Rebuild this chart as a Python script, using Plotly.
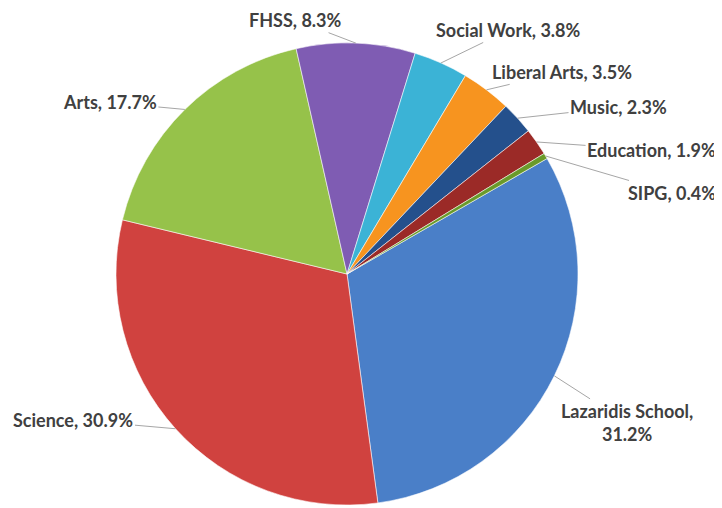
import math
import plotly.graph_objects as go

# ---- data ----
categories = ["Lazaridis School", "Science", "Arts", "FHSS", "Social Work",
              "Liberal Arts", "Music", "Education", "SIPG"]
shares = [31.2, 30.9, 17.7, 8.3, 3.8, 3.5, 2.3, 1.9, 0.4]

# ---- style ----
colors = ["#4a7fc8", "#d0423f", "#96c24a", "#7f5cb3", "#3bb3d6",
          "#f7941f", "#24508c", "#9b2a27", "#6a9a2a"]
PAGE_OFF = 8            # default body margin of the html page
W, H = 722 - PAGE_OFF, 508 - PAGE_OFF
CX, CY, R = 347 - PAGE_OFF, 274 - PAGE_OFF, 231
ROT = 60
# label text offsets from slice-edge anchor (pixels)
label_offsets = {
    "Lazaridis School": (73, 47),
    "Science": (-102, -9),
    "Arts": (-75, -7),
    "FHSS": (-60, -23),
    "Social Work": (68, -33),
    "Liberal Arts": (76, -18),
    "Music": (101, -11),
    "Education": (115, 8),
    "SIPG": (126, 37),
}

fig = go.Figure(go.Pie(
    labels=categories, values=shares, sort=False, direction="clockwise",
    rotation=ROT, textinfo="none", hoverinfo="label+percent",
    marker=dict(colors=colors, line=dict(color="rgba(255,255,255,0.55)", width=1)),
    domain=dict(x=[(CX - R) / W, (CX + R) / W],
                y=[(H - CY - R) / H, (H - CY + R) / H]),
    showlegend=False,
))

total = sum(shares)
cum = 0.0
annotations = []
for name, v in zip(categories, shares):
    mid = ROT + (cum + v / 2) / total * 360
    cum += v
    a = math.radians(mid)
    px = CX + R * math.sin(a)
    py = CY - R * math.cos(a)
    dx, dy = label_offsets[name]
    txt = f"{name}, {v:.1f}%"
    if name == "Lazaridis School":
        txt = f"{name},<br>{v:.1f}%"
    annotations.append(dict(
        x=px / W, y=1 - py / H, xref="paper", yref="paper",
        text=txt, showarrow=True, arrowhead=0, arrowwidth=1,
        arrowcolor="#a6a6a6", ax=dx, ay=dy, standoff=0,
        font=dict(family="Lato", size=18, color="#404040", weight="bold"),
        align="center",
    ))

fig.update_layout(
    width=W, height=H, margin=dict(l=0, r=0, t=0, b=0),
    paper_bgcolor="white", plot_bgcolor="white",
    annotations=annotations,
)
fig.write_html("out.html")
